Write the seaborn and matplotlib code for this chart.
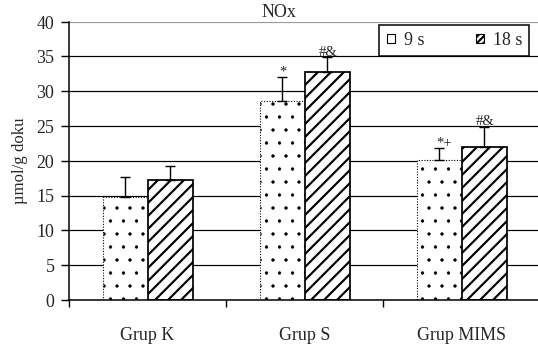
import numpy as np
import pandas as pd
import matplotlib
matplotlib.use("Agg")
import matplotlib.pyplot as plt
from matplotlib.patches import Patch
import seaborn as sns

# values
groups = ["Grup K", "Grup S", "Grup MIMS"]
times = ["9 s", "18 s"]
mean_9 = [14.8, 28.6, 20.1]
mean_18 = [17.2, 32.7, 22.0]
err_9 = [2.9, 3.4, 1.8]
err_18 = [2.1, 2.2, 2.9]
marks_9 = ["", "*", "*+"]
marks_18 = ["", "#&", "#&"]
yticks = [0, 5, 10, 15, 20, 25, 30, 35, 40]

DPI = 78
FS = 16.5

sns.set_style("white")
plt.rcParams["font.family"] = ["Liberation Serif", "DejaVu Serif"]
plt.rcParams["hatch.linewidth"] = 2.0

df = pd.DataFrame({
    "group": groups * 2,
    "time": [times[0]] * 3 + [times[1]] * 3,
    "value": mean_9 + mean_18,
})

fig = plt.figure(figsize=(538.4 / DPI, 351.4 / DPI), dpi=DPI)
ax = fig.add_axes([69 / 538, 51 / 351, 469 / 538, 278 / 351])

sns.barplot(data=df, x="group", y="value", hue="time", order=groups,
            hue_order=times, palette={"9 s": "white", "18 s": "white"},
            width=0.574, gap=0, errorbar=None, legend=False, ax=ax,
            zorder=2)

# style bars: dotted for 9 s, hatched for 18 s (sorted left to right)
bars = sorted([p for p in ax.patches if p.get_width() > 0], key=lambda p: p.get_x())
centers, tops, errs, marks = [], [], [], []
for i, p in enumerate(bars):
    g = i // 2
    if i % 2 == 0:
        p.set_hatch(".")
        if hasattr(p, "set_hatch_linewidth"):
            p.set_hatch_linewidth(0.6)
        p.set_edgecolor("black")
        p.set_linewidth(1.0)
        p.set_linestyle((0, (1, 1.5)))
        errs.append(err_9[g])
        marks.append(marks_9[g])
    else:
        p.set_hatch("//")
        p.set_edgecolor("black")
        p.set_linewidth(1.6)
        errs.append(err_18[g])
        marks.append(marks_18[g])
    centers.append(p.get_x() + p.get_width() / 2)
    tops.append(p.get_height())

ax.errorbar(centers, tops, yerr=[np.zeros(len(errs)), errs], fmt="none",
            ecolor="black", elinewidth=1.3, capsize=4.3, capthick=1.3, zorder=3)

for x, t, e, m in zip(centers, tops, errs, marks):
    if m:
        ax.annotate(m, (x, t + e), xytext=(4 if m == "*+" else 1, -1),
                    textcoords="offset points", ha="center", va="bottom",
                    fontsize=13.5)

ax.set_ylim(0, 40)
ax.set_xlim(-0.5, 2.487)
ax.set_yticks(yticks)
ax.yaxis.grid(True, color="black", linewidth=1.1)
ax.get_ygridlines()[-1].set_color("#999999")
ax.set_axisbelow(True)

# ticks between the groups, labels at the group centres
ax.set_xticks([-0.5, 0.5, 1.5])
ax.set_xticklabels([])
ax.set_xticks([0, 1, 2], minor=True)
ax.set_xticklabels(groups, minor=True)
ax.tick_params(axis="x", which="major", direction="out", length=6, width=1.3,
               bottom=True, color="black")
ax.tick_params(axis="x", which="minor", length=0, pad=25, labelsize=FS)
ax.tick_params(axis="y", direction="out", length=7.5, width=1.3, left=True,
               pad=6, labelsize=FS, color="black")

for s in ["top", "right"]:
    ax.spines[s].set_visible(False)
for s in ["left", "bottom"]:
    ax.spines[s].set_color("black")
    ax.spines[s].set_linewidth(1.4)

ax.set_xlabel("")
ax.set_ylabel("µmol/g doku", fontsize=FS - 1, labelpad=8)

handles = [Patch(facecolor="white", edgecolor="black", linewidth=1.0),
           Patch(facecolor="white", edgecolor="black", hatch="////", linewidth=1.0)]
leg = fig.legend(handles, times, loc="upper right",
                 bbox_to_anchor=(529 / 538, 1 - 25 / 351),
                 bbox_transform=fig.transFigure, ncol=2,
                 borderaxespad=0, fontsize=FS, handlelength=0.45,
                 handleheight=0.45, handletextpad=0.5, borderpad=0.4,
                 columnspacing=2.9, fancybox=False, framealpha=1,
                 edgecolor="black")
leg.get_frame().set_linewidth(1.4)

fig.text(279 / 538, 1 - 12 / 351, "NOx", ha="center", va="center", fontsize=FS)

fig.savefig("out.png", dpi=DPI)
